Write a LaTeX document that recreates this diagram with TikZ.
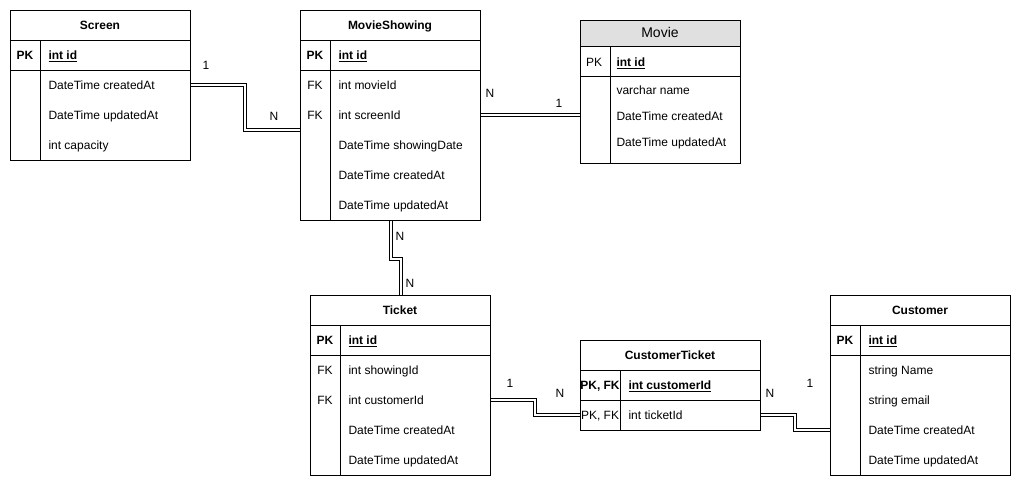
\documentclass[tikz,border=0pt]{standalone}
\usepackage{fontspec}
\setmainfont{Liberation Sans}
\usetikzlibrary{positioning}
\definecolor{hdrgray}{RGB}{224,224,224}
\tikzset{
    entity/.style={draw, line width=0.75pt, inner sep=0pt, minimum width=135pt},
    ttl/.style={font=\fontsize{9}{11}\selectfont\bfseries, inner sep=0pt, anchor=base, yshift=-3.2pt},
    keyname/.style={font=\fontsize{9}{11}\selectfont, inner sep=0pt, anchor=base, yshift=-3.2pt},
    fld/.style={font=\fontsize{9}{11}\selectfont, inner sep=0pt, anchor=base west, yshift=-3.2pt},
    rel/.style={double, double distance=1.5pt, line width=0.75pt},
    card/.style={font=\fontsize{9}{11}\selectfont, inner sep=0pt, anchor=base, yshift=-3.2pt},
}
\begin{document}
\begin{tikzpicture}[x=0.75pt,y=-0.75pt,line width=0.75pt]
    \useasboundingbox (0,0) rectangle (1021,486);
    % Screen
    \node[entity, minimum height=112.5pt] (screen) at (100,85) {};
    \draw (10,40) -- (190,40);
    \draw (10,70) -- (190,70);
    \draw (40,40) -- (40,160);
    \node[ttl] (screenT) at (100,25) {Screen};
    \node[keyname] (screenK) at (25,55) {\bfseries PK};
    \node[fld] (screenId) at (48,55) {\bfseries\underline{int id}};
    \foreach \fname [count=\i] in {DateTime createdAt, DateTime updatedAt, int capacity}
    {
    \node[fld] (screen\i) at (48,55+30*\i) {\fname};
    }
    % MovieShowing
    \node[entity, minimum height=157.5pt] (mshow) at (390,115) {};
    \draw (300,40) -- (480,40);
    \draw (300,70) -- (480,70);
    \draw (330,40) -- (330,220);
    \node[ttl] (mshowT) at (390,25) {MovieShowing};
    \node[keyname] (mshowK) at (315,55) {\bfseries PK};
    \node[fld] (mshowId) at (338,55) {\bfseries\underline{int id}};
    \node[keyname] (mshowF1) at (315,85) {FK};
    \node[keyname] (mshowF2) at (315,115) {FK};
    \foreach \fname [count=\i] in {int movieId, int screenId, DateTime showingDate, DateTime createdAt, DateTime updatedAt}
    {
    \node[fld] (mshow\i) at (338,55+30*\i) {\fname};
    }
    % Movie
    \fill[hdrgray] (580,20) rectangle (740,46);
    \node[entity, minimum width=120pt, minimum height=107.25pt] (movie) at (660,91.5) {};
    \draw (580,46) -- (740,46);
    \draw (580,76) -- (740,76);
    \draw (610,46) -- (610,163);
    \node[keyname, font=\fontsize{10.5}{12}\selectfont, yshift=-0.5pt] (movieT) at (660,33) {Movie};
    \node[keyname] (movieK) at (594,62) {PK};
    \node[fld] (movieId) at (616,62) {\bfseries\underline{int id}};
    \foreach \fname [count=\i] in {varchar name, DateTime createdAt, DateTime updatedAt}
    {
    \node[fld] (movie\i) at (616,64+26*\i) {\fname};
    }
    % Ticket
    \node[entity, minimum height=135pt] (ticket) at (400,385) {};
    \draw (310,325) -- (490,325);
    \draw (310,355) -- (490,355);
    \draw (340,325) -- (340,475);
    \node[ttl] (ticketT) at (400,310) {Ticket};
    \node[keyname] (ticketK) at (325,340) {\bfseries PK};
    \node[fld] (ticketId) at (348,340) {\bfseries\underline{int id}};
    \node[keyname] (ticketF1) at (325,370) {FK};
    \node[keyname] (ticketF2) at (325,400) {FK};
    \foreach \fname [count=\i] in {int showingId, int customerId, DateTime createdAt, DateTime updatedAt}
    {
    \node[fld] (ticket\i) at (348,340+30*\i) {\fname};
    }
    % CustomerTicket
    \node[entity, minimum height=67.5pt] (ctick) at (670,385) {};
    \draw (580,370) -- (760,370);
    \draw (580,400) -- (760,400);
    \draw (620,370) -- (620,430);
    \node[ttl] (ctickT) at (670,355) {CustomerTicket};
    \node[keyname] (ctickK1) at (600,385) {\bfseries PK, FK};
    \node[fld] (ctick1) at (628,385) {\bfseries\underline{int customerId}};
    \node[keyname] (ctickK2) at (600,415) {PK, FK};
    \node[fld] (ctick2) at (628,415) {int ticketId};
    % Customer
    \node[entity, minimum height=135pt] (cust) at (920,385) {};
    \draw (830,325) -- (1010,325);
    \draw (830,355) -- (1010,355);
    \draw (860,325) -- (860,475);
    \node[ttl] (custT) at (920,310) {Customer};
    \node[keyname] (custK) at (845,340) {\bfseries PK};
    \node[fld] (custId) at (868,340) {\bfseries\underline{int id}};
    \foreach \fname [count=\i] in {string Name, string email, DateTime createdAt, DateTime updatedAt}
    {
    \node[fld] (cust\i) at (868,340+30*\i) {\fname};
    }
    % relations
    \draw[rel] (screen.east |- 0,85) -| (245,130) -- (mshow.west |- 0,130);
    \draw[rel] (mshow.east |- 0,115) -- (movie.west |- 0,115);
    \draw[rel] ([xshift=0.75pt]mshow.south) -- ++(0,38) -- ++(10,0) -- ([xshift=0.75pt]ticket.north);
    \draw[rel] (ticket.east |- 0,400) -| (535,415) -- (ctick.west |- 0,415);
    \draw[rel] (ctick.east |- 0,415) -| (795,430) -- (cust.west |- 0,430);
    \node[card] (c1) at (206,65) {1};
    \node[card] (c2) at (274,116) {N};
    \node[card] (c3) at (490,93) {N};
    \node[card] (c4) at (559,103) {1};
    \node[card] (c5) at (400,236) {N};
    \node[card] (c6) at (410,283) {N};
    \node[card] (c7) at (510,383) {1};
    \node[card] (c8) at (560,393) {N};
    \node[card] (c9) at (770,393) {N};
    \node[card] (c10) at (810,383) {1};
\end{tikzpicture}
\end{document}
